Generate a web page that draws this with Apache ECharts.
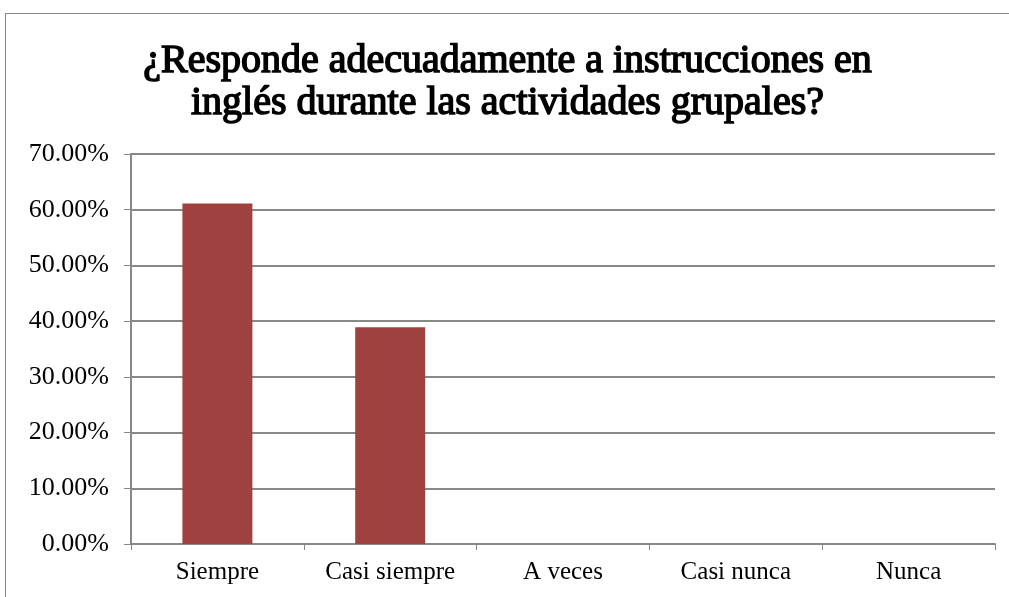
<!DOCTYPE html>
<html>
<head>
<meta charset="utf-8">
<script src="https://cdn.jsdelivr.net/npm/echarts@6/dist/echarts.min.js"></script>
<style>
  html, body { margin: 0; padding: 0; background: #fff; }
  #chart { position: absolute; left: 5px; top: 13px; width: 1004px; height: 584px; border-left: 1px solid #888; border-top: 1px solid #888; box-sizing: border-box; }
</style>
</head>
<body>
<div id="chart"></div>
<script>
  var categories = ['Siempre', 'Casi siempre', 'A veces', 'Casi nunca', 'Nunca']
  var values = [61.11, 38.89, 0, 0, 0]
  var titleText = '¿Responde adecuadamente a instrucciones en\ninglés durante las actividades grupales?'
  var serif = 'Liberation Serif'

  var chart = echarts.init(document.getElementById('chart'))
  chart.setOption({
    animation: false,
    textStyle: { fontFamily: serif },
    title: {
      text: titleText,
      left: 'center',
      top: 21,
      textStyle: {
        fontFamily: serif,
        fontWeight: 'normal',
        fontSize: 40,
        lineHeight: 42,
        color: '#000',
        // no bold face for the serif here, so thicken the strokes
        textBorderColor: '#000',
        textBorderWidth: 1.5
      }
    },
    grid: {
      left: 125,
      right: 14,
      top: 140,
      bottom: 53
    },
    xAxis: {
      type: 'category',
      data: categories,
      axisLine: { lineStyle: { color: '#888', width: 2 } },
      axisTick: { show: true, length: 6, lineStyle: { color: '#888' } },
      axisLabel: { color: '#000', fontSize: 25, margin: 16, interval: 0, fontFamily: serif }
    },
    yAxis: {
      type: 'value',
      min: 0,
      max: 70,
      interval: 10,
      axisLine: { show: true, lineStyle: { color: '#888', width: 2 } },
      axisTick: { show: true, length: 7, lineStyle: { color: '#888' } },
      splitLine: { lineStyle: { color: '#888', width: 2 } },
      axisLabel: {
        color: '#000',
        fontSize: 26,
        margin: 22,
        fontFamily: serif,
        formatter: function (v) { return v.toFixed(2) + '%' }
      }
    },
    series: [
      {
        type: 'bar',
        data: values,
        barWidth: 70,
        itemStyle: { color: '#9e413f' }
      }
    ]
  })
</script>
</body>
</html>
